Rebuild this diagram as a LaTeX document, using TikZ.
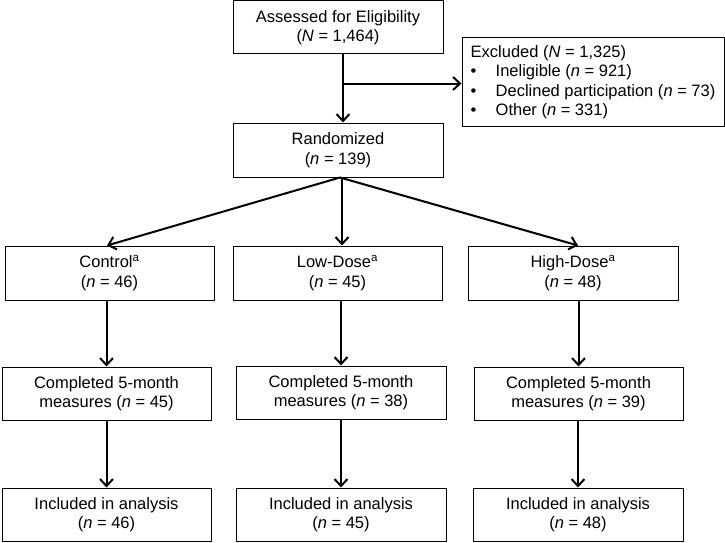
\documentclass[tikz,border=0pt]{standalone}
\usepackage{fontspec}
\setmainfont{Liberation Sans}
\usetikzlibrary{arrows.meta, positioning}

\tikzset{
  box/.style={draw, line width=1pt, align=center, inner sep=0pt,
    minimum width=210pt, minimum height=54pt,
    font=\fontsize{16.5}{19.5}\selectfont},
  flow/.style={line width=2pt, -{Straight Barb[length=7pt, width=13pt]}},
}

\begin{document}
\begin{tikzpicture}[x=1pt, y=-1pt]
    \useasboundingbox (0,0) rectangle (725,543);

    \node[box, minimum height=53pt] (assess) at (338,27.5) {Assessed for Eligibility\\(\textit{N} = 1,464)};
    \node[box, minimum width=262pt, minimum height=88pt, align=left] (excl) at (593,82)
        {Excluded (\textit{N} = 1,325)\\
         \makebox[25pt][l]{\textbullet}Ineligible (\textit{n} = 921)\\
         \makebox[25pt][l]{\textbullet}Declined participation (\textit{n} = 73)\\
         \makebox[25pt][l]{\textbullet}Other (\textit{n} = 331)};
    \node[box] (rand) at (338,150) {Randomized\\(\textit{n} = 139)};

    \node[box, minimum width=209pt] (ctl) at (109.5,273) {Control\textsuperscript{a}\\(\textit{n} = 46)};
    \node[box, minimum width=209pt] (low) at (337.5,273) {Low-Dose\textsuperscript{a}\\(\textit{n} = 45)};
    \node[box] (high) at (573,273) {High-Dose\textsuperscript{a}\\(\textit{n} = 48)};

    \node[box, minimum width=209pt, minimum height=53pt] (ctlcomp) at (106.5,393.5) {Completed 5-month\\measures (\textit{n} = 45)};
    \node[box, minimum height=53pt] (lowcomp) at (341,392.5) {Completed 5-month\\measures (\textit{n} = 38)};
    \node[box, minimum width=209pt, minimum height=53pt] (highcomp) at (578.5,393.5) {Completed 5-month\\measures (\textit{n} = 39)};

    \node[box, minimum width=209pt, minimum height=53pt] (ctlinc) at (106.5,514.5) {Included in analysis\\(\textit{n} = 46)};
    \node[box, minimum height=53pt] (lowinc) at (341,514.5) {Included in analysis\\(\textit{n} = 45)};
    \node[box, minimum height=53pt] (highinc) at (578,514.5) {Included in analysis\\(\textit{n} = 48)};

    % screening
    \draw[flow] ([xshift=5pt]assess.south) -- ([xshift=5pt]rand.north);
    \coordinate (split) at ([xshift=5pt,yshift=-29pt]assess.south);
    \draw[flow] (split) -- (split -| excl.west);

    % allocation
    \draw[flow] ([xshift=2pt]rand.south) -- ([xshift=-2.5pt]ctl.north);
    \draw[flow] ([xshift=4pt]rand.south) -- ([xshift=4.5pt]low.north);
    \draw[flow] ([xshift=2pt]rand.south) -- ([xshift=5pt]high.north);

    % follow-up and analysis
    \draw[flow] (ctlcomp.north |- ctl.south) -- (ctlcomp.north);
    \draw[flow] (lowcomp.north |- low.south) -- (lowcomp.north);
    \draw[flow] (highcomp.north |- high.south) -- (highcomp.north);
    \draw[flow] (ctlinc.north |- ctlcomp.south) -- (ctlinc.north);
    \draw[flow] (lowinc.north |- lowcomp.south) -- (lowinc.north);
    \draw[flow] (highinc.north |- highcomp.south) -- (highinc.north);
\end{tikzpicture}
\end{document}
